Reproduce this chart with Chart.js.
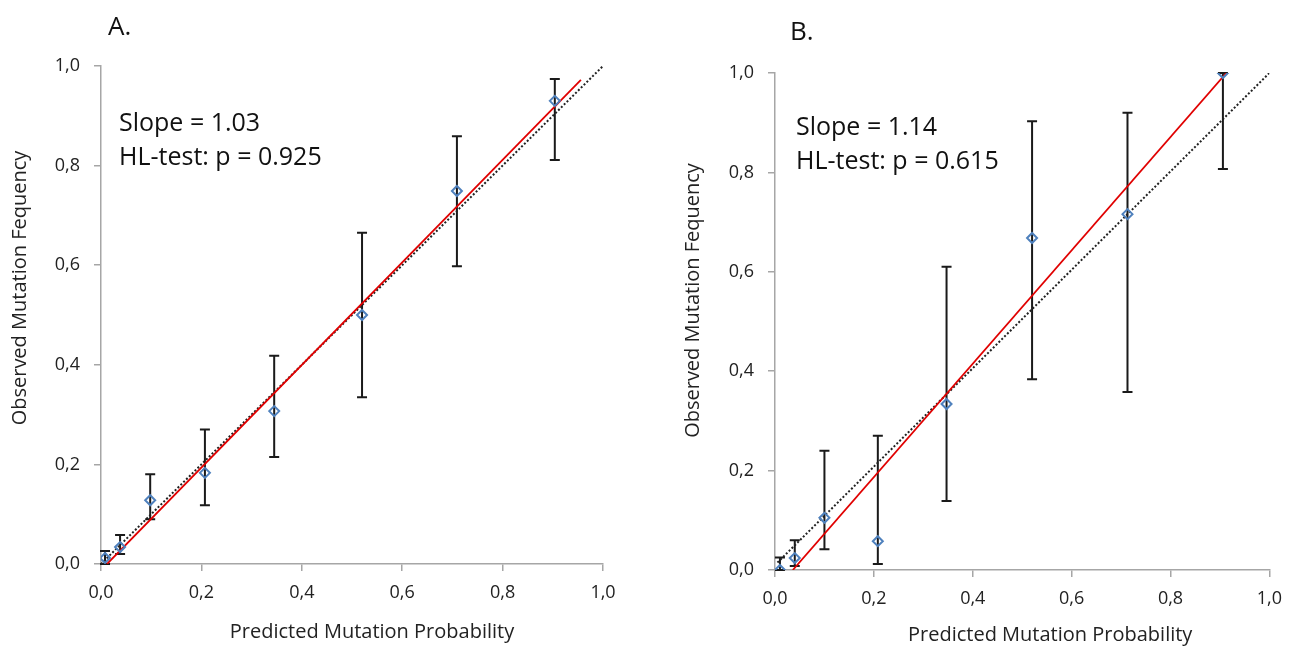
<!DOCTYPE html>
<html>
<head>
<meta charset="utf-8">
<script src="https://cdn.jsdelivr.net/npm/chart.js@4.4.1/dist/chart.umd.min.js"></script>
<style>
  html, body { margin: 0; padding: 0; background: #fff; }
  body { width: 1293px; height: 647px; position: relative; overflow: hidden; }
  .panel { position: absolute; top: 0; height: 647px; }
  #panelA { left: 0; width: 640px; }
  #panelB { left: 653px; width: 640px; }
</style>
</head>
<body>
<div class="panel" id="panelA"><canvas id="chartA"></canvas></div>
<div class="panel" id="panelB"><canvas id="chartB"></canvas></div>
<script>
// panel A
var predA = [0.008, 0.038, 0.098, 0.207, 0.345, 0.52, 0.709, 0.904];
var obsA = [0.012, 0.034, 0.128, 0.183, 0.307, 0.50, 0.749, 0.93];
var lowA = [0.0, 0.02, 0.09, 0.118, 0.215, 0.335, 0.598, 0.811];
var highA = [0.026, 0.058, 0.18, 0.27, 0.418, 0.665, 0.859, 0.974];
var fitXA = [0.012, 0.956];
var fitYA = [0.0, 0.972];
var refXA = [0.0, 1.0];
var refYA = [0.0, 1.0];
var textA = ["Slope = 1.03", "HL-test: p = 0.925"];

// panel B
var predB = [0.01, 0.04, 0.1, 0.208, 0.347, 0.52, 0.713, 0.906];
var obsB = [0.0, 0.024, 0.105, 0.058, 0.334, 0.668, 0.716, 1.0];
var lowB = [0.0, 0.008, 0.042, 0.012, 0.139, 0.384, 0.358, 0.807];
var highB = [0.025, 0.06, 0.24, 0.27, 0.61, 0.903, 0.92, 1.0];
var fitXB = [0.036, 0.913];
var fitYB = [0.0, 1.0];
var refXB = [0.005, 1.0];
var refYB = [0.015, 1.0];
var textB = ["Slope = 1.14", "HL-test: p = 0.615"];

var axisTicks = [0, 0.2, 0.4, 0.6, 0.8, 1.0];
var xTitle = "Predicted Mutation Probability";
var yTitle = "Observed Mutation Fequency";

var FONT = "'Open Sans', 'Liberation Sans', sans-serif";
var AXIS_GREY = "#a6a6a6";

function pairs(xs, ys) {
  return xs.map(function(x, i) { return { x: x, y: ys[i] }; });
}

// whiskers drawn through the scales, under the diamonds
var errorBars = {
  id: 'errorBars',
  beforeDatasetsDraw(chart, args, opts) {
    var ctx = chart.ctx, xs = chart.scales.x, ys = chart.scales.y;
    ctx.save();
    ctx.strokeStyle = '#1a1a1a';
    ctx.lineWidth = 2;
    opts.x.forEach(function(v, i) {
      var px = xs.getPixelForValue(v);
      var top = ys.getPixelForValue(opts.high[i]);
      var bot = ys.getPixelForValue(opts.low[i]);
      ctx.beginPath();
      ctx.moveTo(px, top); ctx.lineTo(px, bot);
      ctx.moveTo(px - 5, top); ctx.lineTo(px + 5, top);
      ctx.moveTo(px - 5, bot); ctx.lineTo(px + 5, bot);
      ctx.stroke();
    });
    ctx.restore();
  }
};

// panel letter, slope / HL-test note and the axis titles (they sit off-centre in the original)
var notes = {
  id: 'notes',
  afterDraw(chart, args, opts) {
    var ctx = chart.ctx, area = chart.chartArea;
    var midX = (area.left + area.right) / 2, midY = (area.top + area.bottom) / 2;
    ctx.save();
    ctx.fillStyle = '#111';
    ctx.textBaseline = 'middle';
    ctx.textAlign = 'left';
    ctx.font = "26px " + FONT;
    ctx.fillText(opts.letter, opts.letterX, opts.letterY);
    ctx.font = "25px " + FONT;
    opts.lines.forEach(function(t, i) {
      ctx.fillText(t, area.left + opts.dx, area.top + opts.dy + i * 34);
    });
    ctx.fillStyle = '#222';
    ctx.font = "20px " + FONT;
    ctx.textAlign = 'center';
    ctx.fillText(xTitle, midX + opts.xTitleDx, area.bottom + opts.xTitleDy);
    ctx.translate(area.left + opts.yTitleDx, midY + opts.yTitleDy);
    ctx.rotate(-Math.PI / 2);
    ctx.fillText(yTitle, 0, 0);
    ctx.restore();
  }
};

function makeChart(id, d) {
  var ctx = document.getElementById(id).getContext('2d');
  var tickLabel = function(v) { return v.toFixed(1).replace('.', ','); };
  return new Chart(ctx, {
    type: 'scatter',
    data: {
      datasets: [{
        label: 'observed',
        data: pairs(d.pred, d.obs),
        pointStyle: 'rectRot',
        pointRadius: 5,
        pointBorderWidth: 2,
        borderColor: '#4f81bd',
        backgroundColor: 'rgba(0,0,0,0)',
        order: 0
      }, {
        label: 'fit',
        type: 'line',
        data: pairs(d.fitX, d.fitY),
        borderColor: '#e00000',
        borderWidth: 1.8,
        pointRadius: 0,
        fill: false,
        order: 1
      }, {
        label: 'ideal',
        type: 'line',
        data: pairs(d.refX, d.refY),
        borderColor: '#222',
        borderWidth: 2,
        borderDash: [2, 2],
        pointRadius: 0,
        fill: false,
        order: 2
      }]
    },
    options: {
      responsive: true,
      maintainAspectRatio: false,
      animation: false,
      layout: { padding: { left: 0, top: d.padTop, right: d.padRight, bottom: 0 } },
      plugins: {
        legend: { display: false },
        tooltip: { enabled: false },
        errorBars: { x: d.pred, low: d.low, high: d.high },
        notes: d.notes
      },
      scales: {
        x: {
          type: 'linear', min: 0, max: 1,
          afterBuildTicks: function(s) { s.ticks = axisTicks.map(function(v) { return { value: v }; }); },
          afterFit: function(s) { s.height = d.xAxisH; },
          ticks: { color: '#222', padding: 11, font: { family: FONT, size: 18 }, callback: tickLabel },
          grid: { drawOnChartArea: false, tickLength: 7, color: AXIS_GREY, lineWidth: 1.5 },
          border: { color: AXIS_GREY, width: 1.5 }
        },
        y: {
          type: 'linear', min: 0, max: 1,
          afterBuildTicks: function(s) { s.ticks = axisTicks.map(function(v) { return { value: v }; }); },
          afterFit: function(s) { s.width = d.yAxisW; },
          ticks: { color: '#222', padding: 14, font: { family: FONT, size: 18 }, callback: tickLabel },
          grid: { drawOnChartArea: false, tickLength: 7, color: AXIS_GREY, lineWidth: 1.5 },
          border: { color: AXIS_GREY, width: 1.5 }
        }
      }
    },
    plugins: [errorBars, notes]
  });
}

makeChart('chartA', {
  pred: predA, obs: obsA, low: lowA, high: highA,
  fitX: fitXA, fitY: fitYA, refX: refXA, refY: refYA,
  padTop: 66, padRight: 37, yAxisW: 101, xAxisH: 83,
  notes: { letter: 'A.', letterX: 108, letterY: 28, lines: textA, dx: 18, dy: 58,
           xTitleDx: 20, xTitleDy: 68, yTitleDx: -81, yTitleDy: -27 }
});

makeChart('chartB', {
  pred: predB, obs: obsB, low: lowB, high: highB,
  fitX: fitXB, fitY: fitYB, refX: refXB, refY: refYB,
  padTop: 73, padRight: 20, yAxisW: 122, xAxisH: 77,
  notes: { letter: 'B.', letterX: 137, letterY: 33, lines: textB, dx: 21, dy: 55,
           xTitleDx: 28, xTitleDy: 65, yTitleDx: -82, yTitleDy: -21 }
});
</script>
</body>
</html>
